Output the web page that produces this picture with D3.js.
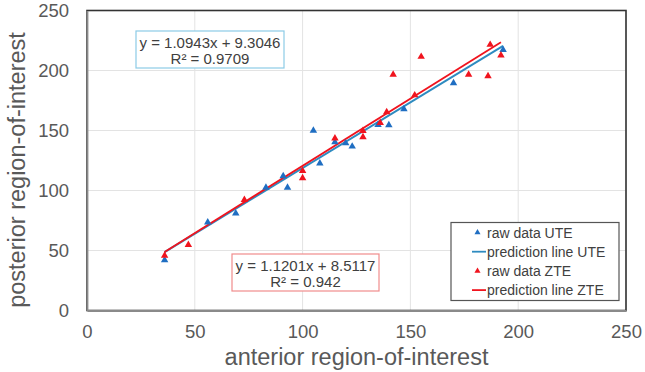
<!DOCTYPE html>
<html>
<head>
<meta charset="utf-8">
<script src="https://cdn.jsdelivr.net/npm/d3@7"></script>
<style>
  html, body { margin: 0; padding: 0; background: #fff; }
  svg { display: block; font-family: Arial, "Liberation Sans", sans-serif; }
</style>
</head>
<body>
<svg id="chart" width="645" height="372"></svg>
<script>
// ---- data ----
const uteX = [36, 56, 69, 83, 93, 91, 105, 108, 115, 120, 123, 135, 140, 147, 170, 193];
const uteY = [42, 73.5, 81, 102.5, 102.5, 112, 150, 122.7, 140.4, 139.4, 136.7, 154.8, 154.5, 167.8, 189.6, 217.3];
const zteX = [36, 47, 73, 100, 100, 115, 128, 128, 136, 139, 142, 152, 155, 177, 186, 187, 192];
const zteY = [45.7, 54.8, 92.2, 116.4, 110.4, 143.4, 149.8, 144.5, 156.4, 165.3, 196.6, 179.4, 211.5, 196.6, 195.4, 221.5, 212.6];
const uteFit = { slope: 1.0943, intercept: 9.3046, xMin: 36, xMax: 193 };
const zteFit = { slope: 1.1201, intercept: 8.5117, xMin: 36, xMax: 192 };
const xTicks = [0, 50, 100, 150, 200, 250];
const yTicks = [0, 50, 100, 150, 200, 250];
const uteLabel = ["y = 1.0943x + 9.3046", "R\u00B2 = 0.9709"];
const zteLabel = ["y = 1.1201x + 8.5117", "R\u00B2 = 0.942"];
const legendItems = [
  { label: "raw data UTE", type: "marker", color: "#1F6EC2" },
  { label: "prediction line UTE", type: "line", color: "#2E8BC0" },
  { label: "raw data ZTE", type: "marker", color: "#F0141E" },
  { label: "prediction line ZTE", type: "line", color: "#F0141E" }
];

// ---- layout ----
const svg = d3.select("#chart");
const L = 87, R = 626, T = 10.5, B = 310.5;
const x = d3.scaleLinear().domain([0, 250]).range([L, R]);
const y = d3.scaleLinear().domain([0, 250]).range([B, T]);

const textColor = "#595959";

// grid
svg.append("g").selectAll("line.gx").data(xTicks).join("line")
  .attr("x1", d => x(d)).attr("x2", d => x(d)).attr("y1", T).attr("y2", B)
  .attr("stroke", "#e3e3e3").attr("stroke-width", 1);
svg.append("g").selectAll("line.gy").data(yTicks).join("line")
  .attr("y1", d => y(d)).attr("y2", d => y(d)).attr("x1", L).attr("x2", R)
  .attr("stroke", "#e3e3e3").attr("stroke-width", 1);

// frame
svg.append("rect").attr("x", L).attr("y", T).attr("width", R - L).attr("height", B - T)
  .attr("fill", "none").attr("stroke", "#333").attr("stroke-width", 1.6);

// axes (left & bottom gray)
const xAxis = d3.axisBottom(x).tickValues(xTicks).tickSize(0).tickPadding(11);
const yAxis = d3.axisLeft(y).tickValues(yTicks).tickSize(0).tickPadding(18);
const gx = svg.append("g").attr("transform", `translate(0,${B})`).call(xAxis);
const gy = svg.append("g").attr("transform", `translate(${L},0)`).call(yAxis);
[gx, gy].forEach(g => {
  g.select(".domain").attr("stroke", "#8a8a8a").attr("stroke-width", 1.8);
  g.selectAll("text").attr("fill", textColor).style("font-size", "18.5px")
    .style("font-family", "Arial, 'Liberation Sans', sans-serif");
});
gx.selectAll("text").attr("dy", "0.9em");

// axis titles
svg.append("text").attr("x", (L + R) / 2).attr("y", 365)
  .attr("text-anchor", "middle").attr("fill", textColor)
  .style("font-size", "23.5px").text("anterior region-of-interest");
svg.append("text").attr("transform", "translate(25,170) rotate(-90)")
  .attr("text-anchor", "middle").attr("fill", textColor)
  .style("font-size", "23.5px").text("posterior region-of-interest");

// regression lines
function fitLine(f, color, width) {
  svg.append("line")
    .attr("x1", x(f.xMin)).attr("y1", y(f.slope * f.xMin + f.intercept))
    .attr("x2", x(f.xMax)).attr("y2", y(f.slope * f.xMax + f.intercept))
    .attr("stroke", color).attr("stroke-width", width);
}
fitLine(uteFit, "#2E8BC0", 2);
fitLine(zteFit, "#F0141E", 1.8);

// markers
const tri = d3.symbol().type(d3.symbolTriangle).size(24);
function markers(xs, ys, color) {
  svg.append("g").selectAll("path").data(xs).join("path")
    .attr("d", tri)
    .attr("transform", (d, i) => `translate(${x(d)},${y(ys[i])})`)
    .attr("fill", color);
}
markers(uteX, uteY, "#1F6EC2");
markers(zteX, zteY, "#F0141E");

// equation boxes
function eqBox(lines, bx, by, bw, bh, stroke) {
  svg.append("rect").attr("x", bx).attr("y", by).attr("width", bw).attr("height", bh)
    .attr("fill", "#fff").attr("stroke", stroke).attr("stroke-width", 1.2);
  lines.forEach((t, i) => {
    svg.append("text").attr("x", bx + bw / 2).attr("y", by + 16.5 + i * 16.5)
      .attr("text-anchor", "middle").attr("fill", "#404040")
      .style("font-size", "15px").text(t);
  });
}
eqBox(uteLabel, 136, 31, 148, 37, "#8CCBE6");
eqBox(zteLabel, 232, 254, 147, 37, "#F08C8C");

// legend
const lg = svg.append("g");
lg.append("rect").attr("x", 451).attr("y", 222.5).attr("width", 168).attr("height", 78)
  .attr("fill", "#fff").attr("stroke", "#555").attr("stroke-width", 1.2);
legendItems.forEach((d, i) => {
  const cy = 232.5 + i * 19.2;
  if (d.type === "marker") {
    lg.append("path").attr("d", d3.symbol().type(d3.symbolTriangle).size(16))
      .attr("transform", `translate(477.5,${cy})`).attr("fill", d.color);
  } else {
    lg.append("line").attr("x1", 472).attr("x2", 486).attr("y1", cy).attr("y2", cy)
      .attr("stroke", d.color).attr("stroke-width", 1.8);
  }
  lg.append("text").attr("x", 487).attr("y", cy + 5)
    .attr("fill", "#404040").style("font-size", "14px").text(d.label);
});
</script>
</body>
</html>
